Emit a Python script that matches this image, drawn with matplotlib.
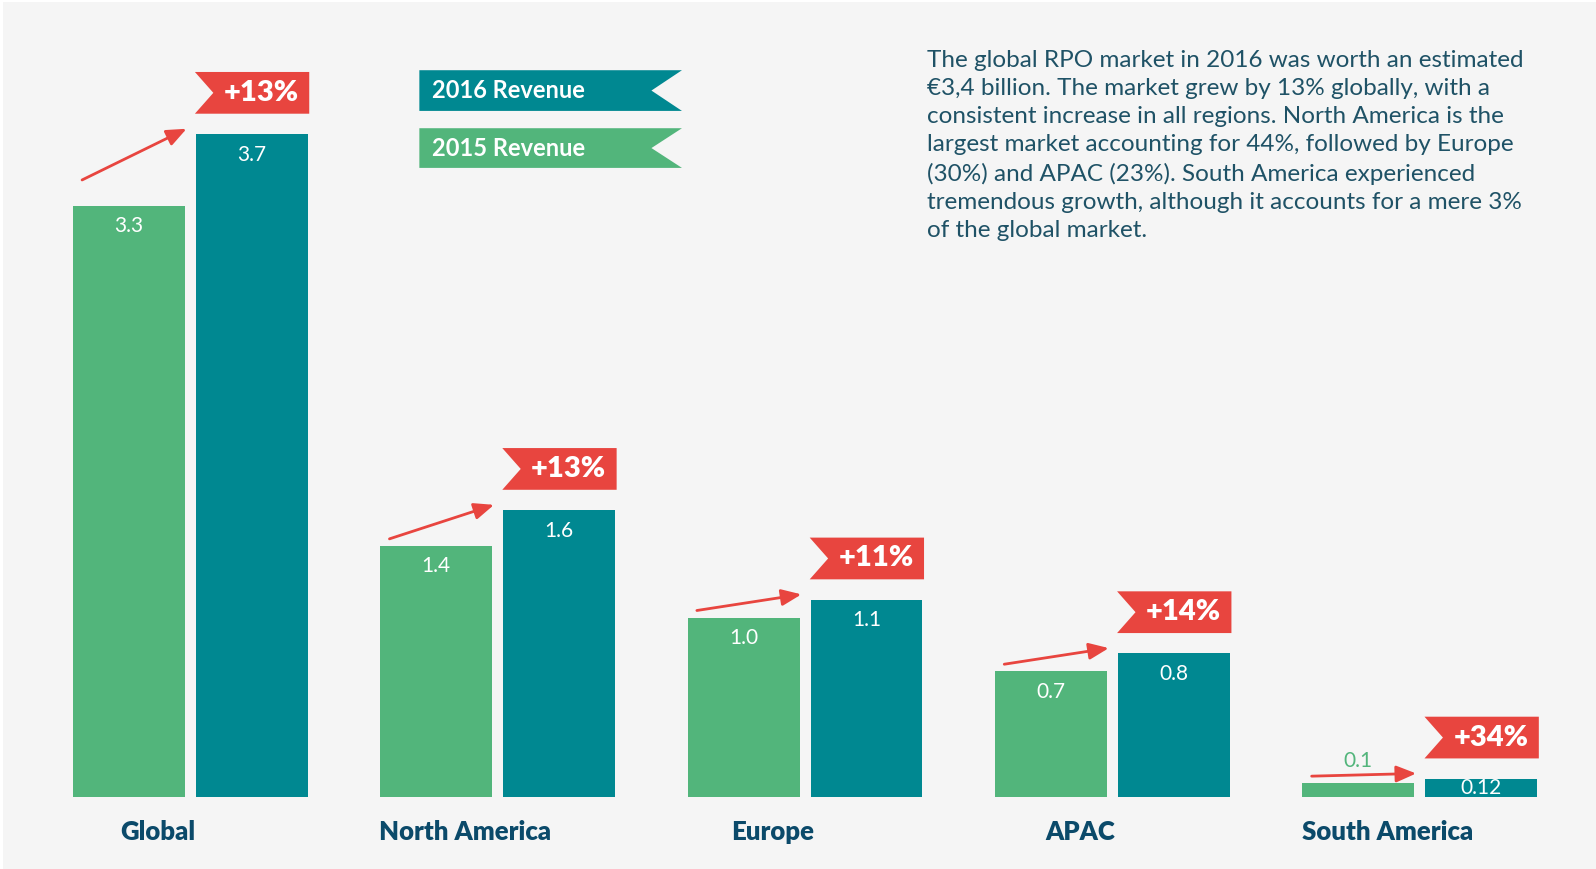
import matplotlib.pyplot as plt
from matplotlib.patches import Polygon, Rectangle

# data
regions = ['Global', 'North America', 'Europe', 'APAC', 'South America']
rev_2015 = [3.3, 1.4, 1.0, 0.7, 0.075]
rev_2016 = [3.7, 1.6, 1.1, 0.8, 0.10]
labels_2015 = ['3.3', '1.4', '1.0', '0.7', '0.1']
labels_2016 = ['3.7', '1.6', '1.1', '0.8', '0.12']
growth = ['+13%', '+13%', '+11%', '+14%', '+34%']

note = ("The global RPO market in 2016 was worth an estimated\n"
        "€3,4 billion. The market grew by 13% globally, with a\n"
        "consistent increase in all regions. North America is the\n"
        "largest market accounting for 44%, followed by Europe\n"
        "(30%) and APAC (23%). South America experienced\n"
        "tremendous growth, although it accounts for a mere 3%\n"
        "of the global market.")

green = '#52b57b'
teal = '#008891'
red = '#e8453f'
navy = '#0b4a6a'
grey_text = '#1f5266'
bg = '#f5f5f5'

plt.rcParams['font.family'] = ['Lato', 'DejaVu Sans']

W, H = 1568, 854  # layout measured on this grid


def fx(x):
    return x / W


def fy(y):
    return 1 - y / H


fig = plt.figure(figsize=(15.96, 8.69), dpi=100, facecolor='white')
fig.patches.append(Rectangle((fx(3), 0), 1, fy(2), transform=fig.transFigure,
                             facecolor=bg, edgecolor='none', zorder=-10))

ax = fig.add_axes([0, 1 - 783 / H, 1, 783 / H])
ax.set_facecolor('none')
ax.set_xlim(-0.619, 4.573)
ax.set_ylim(0, 783 / 176)
ax.axis('off')

bw = 0.364
off = 0.2
for i, name in enumerate(regions):
    v15, v16 = rev_2015[i], rev_2016[i]
    ax.bar(i - off, v15, width=bw, color=green)
    ax.bar(i + off, v16, width=bw, color=teal)

    # value labels
    if v15 > 0.3:
        ax.text(i - off, v15 - 0.114, labels_2015[i], ha='center', va='center',
                color='white', fontsize=15)
        ax.text(i + off, v16 - 0.114, labels_2016[i], ha='center', va='center',
                color='white', fontsize=15)
    else:
        ax.text(i - off, v15 + 0.125, labels_2015[i], ha='center', va='center',
                color=green, fontsize=15)
        ax.text(i + off, v16 / 2, labels_2016[i], ha='center', va='center',
                color='white', fontsize=15)

    # growth arrow
    ax.annotate('', xy=(i + off - bw / 2 - 0.03, v16 + 0.03),
                xytext=(i - off - bw / 2 + 0.03, v15 + 0.04 + 0.08 * max(v15 - 2, 0)),
                arrowprops=dict(arrowstyle='-|>,head_length=0.6,head_width=0.25',
                                color=red, lw=2, mutation_scale=20,
                                shrinkA=0, shrinkB=0))

    # red flag with growth
    x0 = i + off - bw / 2 - 0.003
    x1 = i + off + bw / 2 + 0.005
    y0 = v16 + 0.114
    y1 = y0 + 0.233
    notch = 0.06
    ax.add_patch(Polygon([(x0, y0), (x1, y0), (x1, y1), (x0, y1),
                          (x0 + notch, (y0 + y1) / 2)], closed=True,
                         facecolor=red, edgecolor='none'))
    ax.text((x0 + notch + x1) / 2, (y0 + y1) / 2, growth[i], ha='center',
            va='center', color='white', fontsize=21, fontweight='heavy')

    ax.text(i - 0.106, -0.199, name, ha='center', va='center', color=navy,
            fontsize=18.5, fontweight='heavy', clip_on=False)

# legend flags
for top, bottom, col, txt in [(69, 109, teal, '2016 Revenue'),
                              (126, 165, green, '2015 Revenue')]:
    pts = [(fx(412), fy(top)), (fx(670), fy(top)), (fx(640), fy((top + bottom) / 2)),
           (fx(670), fy(bottom)), (fx(412), fy(bottom))]
    fig.patches.append(Polygon(pts, closed=True, transform=fig.transFigure,
                               facecolor=col, edgecolor='none'))
    fig.text(fx(424), fy((top + bottom) / 2), txt, ha='left', va='center',
             color='white', fontsize=17, fontweight='bold')

fig.text(fx(911), fy(49), note, ha='left', va='top', color=grey_text,
         fontsize=17.5, fontweight='normal', linespacing=1.42)

fig.savefig('out.png', dpi=100, facecolor=fig.get_facecolor())
